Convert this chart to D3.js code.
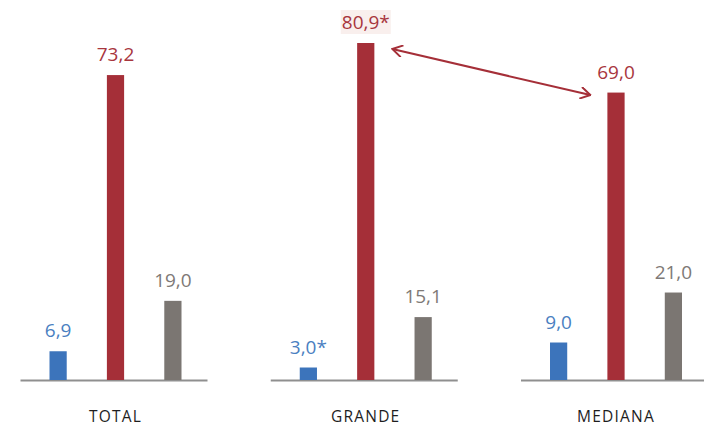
<!DOCTYPE html>
<html>
<head>
<meta charset="utf-8">
<script src="https://cdn.jsdelivr.net/npm/d3@7"></script>
<style>
  html, body { margin: 0; padding: 0; background: #fff; }
  svg { display: block; font-family: "Open Sans", "Noto Sans", sans-serif; }
</style>
</head>
<body>
<svg id="chart" width="704" height="427"></svg>
<script>
// Groups and series
const categories = ["TOTAL", "GRANDE", "MEDIANA"];
const seriesKeys = ["azul", "rojo", "gris"];
const valuesAzul = [6.9, 3.0, 9.0];
const valuesRojo = [73.2, 80.9, 69.0];
const valuesGris = [19.0, 15.1, 21.0];
// Value labels (asterisk marks flagged estimates)
const labelsAzul = ["6,9", "3,0*", "9,0"];
const labelsRojo = ["73,2", "80,9*", "69,0"];
const labelsGris = ["19,0", "15,1", "21,0"];

const barColors = { azul: "#3c74bb", rojo: "#a52f38", gris: "#7b7672" };
const textColors = { azul: "#4a7fc1", rojo: "#a8363e", gris: "#7e7976" };

const rows = categories.map((c, i) => ({
  cat: c,
  bars: [
    { key: "azul", value: valuesAzul[i], label: labelsAzul[i] },
    { key: "rojo", value: valuesRojo[i], label: labelsRojo[i] },
    { key: "gris", value: valuesGris[i], label: labelsGris[i] }
  ]
}));

const svg = d3.select("#chart");

const x0 = d3.scalePoint().domain(categories).range([115.5, 616]);
const x1 = d3.scaleBand().domain(seriesKeys).range([-66, 66]).paddingInner(0.7);
const y = d3.scaleLinear().domain([0, 80.9]).range([380, 43]);

const groups = svg.selectAll("g.grupo")
  .data(rows)
  .join("g")
  .attr("class", "grupo")
  .attr("transform", d => `translate(${x0(d.cat)},0)`);

// Baseline under each group
groups.append("line")
  .attr("x1", -95).attr("x2", 92)
  .attr("y1", y(0) + 0.5).attr("y2", y(0) + 0.5)
  .attr("stroke", "#8f8f8f")
  .attr("stroke-width", 2);

groups.selectAll("rect.bar")
  .data(d => d.bars)
  .join("rect")
  .attr("class", "bar")
  .attr("x", d => x1(d.key))
  .attr("width", x1.bandwidth())
  .attr("y", d => y(d.value))
  .attr("height", d => y(0) - y(d.value))
  .attr("fill", d => barColors[d.key]);

const labels = groups.selectAll("text.valor")
  .data(d => d.bars.map(b => Object.assign({ cat: d.cat }, b)))
  .join("text")
  .attr("class", "valor")
  .attr("x", d => x1(d.key) + x1.bandwidth() / 2)
  .attr("y", d => y(d.value) - 14)
  .attr("text-anchor", "middle")
  .attr("font-size", 19)
  .attr("fill", d => textColors[d.key])
  .text(d => d.label);

// Light highlight behind the largest value
labels.filter(d => d.cat === "GRANDE" && d.key === "rojo").each(function () {
  const bb = this.getBBox();
  d3.select(this.parentNode).insert("rect", () => this)
    .attr("x", bb.x - 1).attr("y", bb.y + 1)
    .attr("width", bb.width + 2).attr("height", bb.height - 2)
    .attr("fill", "#f9efed");
});

// Category labels
groups.append("text")
  .attr("y", 422)
  .attr("text-anchor", "middle")
  .attr("font-size", 15.5)
  .attr("letter-spacing", 1.2)
  .attr("fill", "#1e1e1e")
  .text(d => d.cat);

// Double-headed arrow linking the GRANDE and MEDIANA red bars
const rojo = "#a52f38";
svg.append("defs").append("marker")
  .attr("id", "punta")
  .attr("viewBox", "0 -6 12 12")
  .attr("refX", 11).attr("refY", 0)
  .attr("markerWidth", 12).attr("markerHeight", 12)
  .attr("markerUnits", "userSpaceOnUse")
  .attr("orient", "auto-start-reverse")
  .append("path")
  .attr("d", "M1,-6 L11,0 L1,6")
  .attr("fill", "none")
  .attr("stroke", rojo)
  .attr("stroke-width", 2);

const gx = x0("GRANDE") + x1("rojo") + x1.bandwidth();
const mx = x0("MEDIANA") + x1("rojo");
svg.append("line")
  .attr("x1", gx + 18).attr("y1", y(valuesRojo[1]) + 6)
  .attr("x2", mx - 17).attr("y2", y(valuesRojo[2]) + 2.5)
  .attr("stroke", rojo)
  .attr("stroke-width", 2)
  .attr("marker-start", "url(#punta)")
  .attr("marker-end", "url(#punta)");
</script>
</body>
</html>
